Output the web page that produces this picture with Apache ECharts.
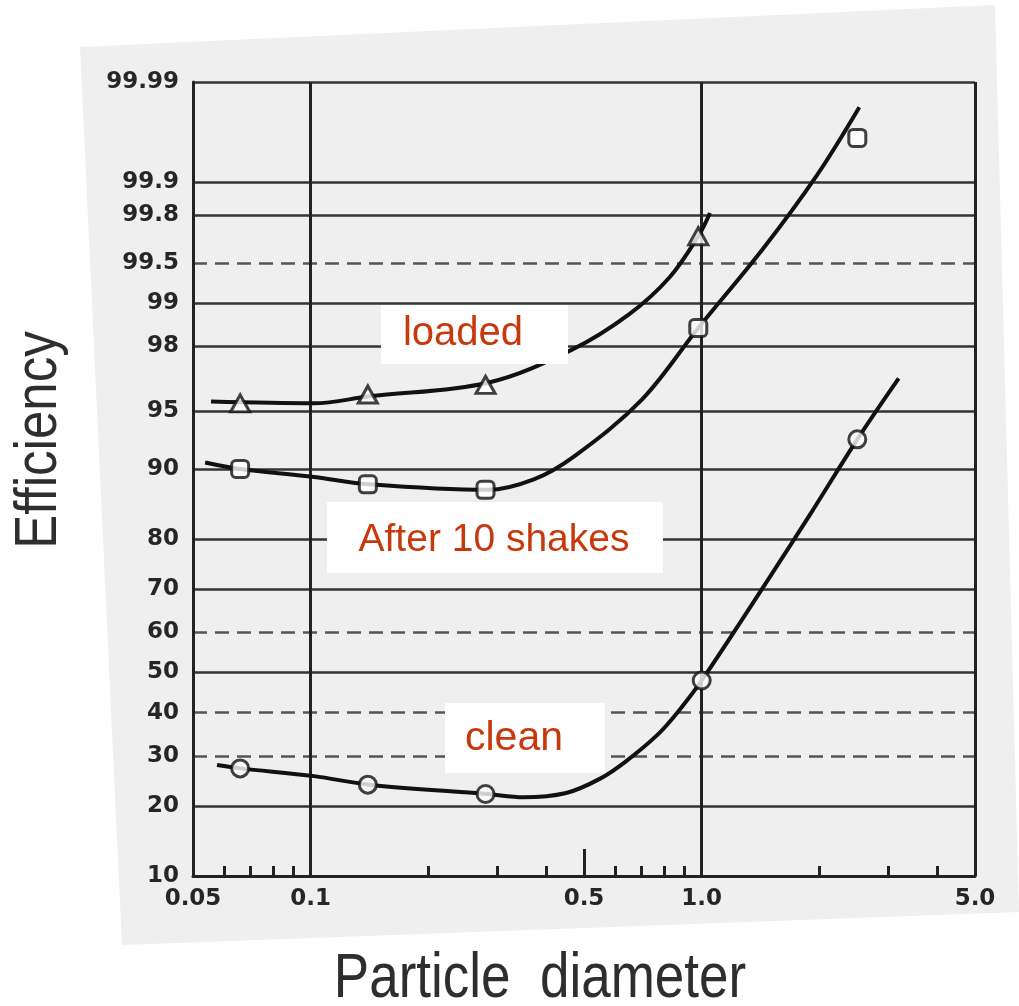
<!DOCTYPE html>
<html>
<head>
<meta charset="utf-8">
<script src="https://cdn.jsdelivr.net/npm/echarts@6/dist/echarts.min.js"></script>
<style>html,body{margin:0;padding:0;background:#fff;}#c{width:1019px;height:1006px;}</style>
</head>
<body>
<div id="c"></div>
<script>
// ---- data ----
const xTickLabels = ['0.05', '0.1', '0.5', '1.0', '5.0'];
const xMinorTicks = [0.06, 0.07, 0.08, 0.09, 0.2, 0.3, 0.4, 0.6, 0.7, 0.8, 0.9, 2, 3, 4];
const xMidTick = [0.5];
const xBoldLines = [0.05, 0.1, 1.0, 5.0];
const yTickLabels = ['10', '20', '30', '40', '50', '60', '70', '80', '90', '95', '98', '99', '99.5', '99.8', '99.9', '99.99'];
const ySolidLines = ['10', '20', '50', '70', '80', '90', '95', '98', '99', '99.8', '99.9', '99.99'];
const yDashedLines = ['30', '40', '60', '99.5'];

const loadedSizes = [0.066, 0.14, 0.28, 0.98];
const loadedEff = [95.5, 96.0, 96.5, 99.7];
const shakenSizes = [0.066, 0.14, 0.28, 0.98, 2.5];
const shakenEff = [90.0, 88.2, 87.5, 98.5, 99.962];
const cleanSizes = [0.066, 0.14, 0.28, 1.0, 2.5];
const cleanEff = [27.3, 24.0, 22.2, 48, 92.9];

const loadedCurveX = [0.0556, 0.102, 0.141, 0.284, 0.466, 0.653, 0.828, 0.98, 1.05];
const loadedCurveY = [95.6, 95.5, 95.9, 96.6, 97.9, 98.8, 99.36, 99.7, 99.81];
const shakenCurveX = [0.0537, 0.066, 0.102, 0.141, 0.284, 0.372, 0.471, 0.702, 0.98, 1.435, 1.97, 2.53];
const shakenCurveY = [90.7, 90.0, 89.1, 88.2, 87.5, 88.8, 91.3, 95.7, 98.5, 99.62, 99.913, 99.9815];
const cleanCurveX = [0.0576, 0.066, 0.102, 0.141, 0.283, 0.35, 0.45, 0.55, 0.64, 0.774, 0.871, 1.0, 1.466, 1.93, 2.5, 3.19];
const cleanCurveY = [28.0, 27.3, 25.7, 24.0, 22.2, 21.6, 22.4, 25.2, 28.8, 34.9, 40.3, 48, 71.6, 84.8, 92.9, 96.8];

// ---- scale helpers ----
function probit(p) {
  const a = [-3.969683028665376e+01, 2.209460984245205e+02, -2.759285104469687e+02, 1.383577518672690e+02, -3.066479806614716e+01, 2.506628277459239e+00];
  const b = [-5.447609879822406e+01, 1.615858368580409e+02, -1.556989798598866e+02, 6.680131188771972e+01, -1.328068155288572e+01];
  const c = [-7.784894002430293e-03, -3.223964580411365e-01, -2.400758277161838e+00, -2.549671285068542e+00, 4.374664141464968e+00, 2.938163982698783e+00];
  const d = [7.784695709041462e-03, 3.224671290700398e-01, 2.445134137142996e+00, 3.754408661907416e+00];
  const plow = 0.02425, phigh = 1 - plow;
  let q, r;
  if (p < plow) {
    q = Math.sqrt(-2 * Math.log(p));
    return (((((c[0]*q+c[1])*q+c[2])*q+c[3])*q+c[4])*q+c[5]) / ((((d[0]*q+d[1])*q+d[2])*q+d[3])*q+1);
  } else if (p <= phigh) {
    q = p - 0.5; r = q * q;
    return (((((a[0]*r+a[1])*r+a[2])*r+a[3])*r+a[4])*r+a[5])*q / (((((b[0]*r+b[1])*r+b[2])*r+b[3])*r+b[4])*r+1);
  } else {
    q = Math.sqrt(-2 * Math.log(1 - p));
    return -(((((c[0]*q+c[1])*q+c[2])*q+c[3])*q+c[4])*q+c[5]) / ((((d[0]*q+d[1])*q+d[2])*q+d[3])*q+1);
  }
}
const py = s => probit(parseFloat(s) / 100);
const lx = v => Math.log10(parseFloat(v));
const pairs = (xs, ys) => xs.map((x, i) => [lx(x), probit(ys[i] / 100)]);

const xMin = lx('0.05'), xMax = lx('5.0');
const yMin = py('10'), yMax = py('99.99');

const GRID = { left: 193, right: 44, top: 82, bottom: 130 };
const lineCol = '#333';
const labelFont = { fontFamily: 'DejaVu Sans', fontWeight: 'bold', fontSize: 23, color: '#262626' };

function xAxisBase(extra) {
  return Object.assign({
    type: 'value', min: xMin, max: xMax, position: 'bottom', gridIndex: 0,
    axisLine: { show: false, onZero: false }, axisLabel: { show: false }, splitLine: { show: false },
    axisTick: { show: false }
  }, extra);
}

const option = {
  backgroundColor: '#ffffff',
  animation: false,
  grid: GRID,
  xAxis: [
    xAxisBase({
      axisLine: { show: true, onZero: false, lineStyle: { color: '#222', width: 3 } },
      axisTick: { show: false, customValues: xBoldLines.map(lx) },
      splitLine: { show: true, lineStyle: { color: '#222', width: 3 } },
      axisLabel: Object.assign({
        show: true, margin: 12, showMinLabel: true, showMaxLabel: true,
        customValues: xTickLabels.map(lx),
        formatter: v => { const i = xTickLabels.findIndex(s => Math.abs(lx(s) - v) < 1e-9); return i >= 0 ? xTickLabels[i] : ''; }
      }, labelFont)
    }),
    xAxisBase({
      axisTick: { show: true, inside: true, length: 10, customValues: xMinorTicks.map(lx), lineStyle: { color: '#222', width: 3 } }
    }),
    xAxisBase({
      axisTick: { show: true, inside: true, length: 27, customValues: xMidTick.map(lx), lineStyle: { color: '#222', width: 3 } }
    })
  ],
  yAxis: [
    {
      type: 'value', min: yMin, max: yMax, position: 'left',
      axisLine: { show: true, onZero: false, lineStyle: { color: '#222', width: 3 } },
      axisTick: { show: false, customValues: ySolidLines.map(py) },
      splitLine: { show: true, lineStyle: { color: lineCol, width: 2.5 } },
      axisLabel: Object.assign({
        show: true, margin: 14, showMinLabel: true, showMaxLabel: true,
        customValues: yTickLabels.map(py),
        formatter: v => { const i = yTickLabels.findIndex(s => Math.abs(py(s) - v) < 1e-9); return i >= 0 ? yTickLabels[i] : ''; }
      }, labelFont)
    },
    {
      type: 'value', min: yMin, max: yMax, position: 'left',
      axisLine: { show: false, onZero: false }, axisLabel: { show: false },
      axisTick: { show: false, customValues: yDashedLines.map(py) },
      splitLine: { show: true, lineStyle: { color: '#555', width: 2.5, type: [14, 8] } }
    }
  ],
  series: [
    { type: 'line', name: 'loaded curve', data: pairs(loadedCurveX, loadedCurveY), smooth: 0.35, showSymbol: false, lineStyle: { color: '#111', width: 4 }, z: 3 },
    { type: 'line', name: 'shaken curve', data: pairs(shakenCurveX, shakenCurveY), smooth: 0.35, showSymbol: false, lineStyle: { color: '#111', width: 4 }, z: 3 },
    { type: 'line', name: 'clean curve', data: pairs(cleanCurveX, cleanCurveY), smooth: 0.35, showSymbol: false, lineStyle: { color: '#111', width: 4 }, z: 3 },
    { type: 'scatter', name: 'loaded', data: pairs(loadedSizes, loadedEff), symbol: 'triangle', symbolSize: [19, 17], itemStyle: { color: '#fff', borderColor: '#111', borderWidth: 3 }, z: 5 },
    { type: 'scatter', name: 'After 10 shakes', data: pairs(shakenSizes, shakenEff), symbol: 'roundRect', symbolSize: 17, itemStyle: { color: '#fff', borderColor: '#111', borderWidth: 3 }, z: 5 },
    { type: 'scatter', name: 'clean', data: pairs(cleanSizes, cleanEff), symbol: 'circle', symbolSize: 17, itemStyle: { color: '#fff', borderColor: '#111', borderWidth: 3 }, z: 5 }
  ],
  graphic: [
    { type: 'polygon', z: -100, silent: true, shape: { points: [[80, 47], [995, 5], [1019, 912], [122, 945]] }, style: { fill: '#efefef' } },
    { type: 'rect', z: 100, shape: { x: 381, y: 305, width: 187, height: 59 }, style: { fill: '#fff' } },
    { type: 'text', z: 101, x: 463, y: 334, style: { text: 'loaded', fontFamily: 'Liberation Sans', fontSize: 40, fill: '#C8380C', align: 'center', verticalAlign: 'middle' } },
    { type: 'rect', z: 100, shape: { x: 327, y: 502, width: 336, height: 71 }, style: { fill: '#fff' } },
    { type: 'text', z: 101, x: 494, y: 540, style: { text: 'After 10 shakes', fontFamily: 'Liberation Sans', fontSize: 39, fill: '#C8380C', align: 'center', verticalAlign: 'middle' } },
    { type: 'rect', z: 100, shape: { x: 445, y: 703, width: 160, height: 70 }, style: { fill: '#fff' } },
    { type: 'text', z: 101, x: 514, y: 739, style: { text: 'clean', fontFamily: 'Liberation Sans', fontSize: 41, fill: '#C8380C', align: 'center', verticalAlign: 'middle' } },
    { type: 'text', z: 101, x: 40, y: 440, rotation: Math.PI / 2, scaleY: 1.15, style: { text: 'Efficiency', fontFamily: 'Liberation Sans', fontSize: 51, fill: '#2e2e2e', align: 'center', verticalAlign: 'middle' } },
    { type: 'text', z: 101, x: 540, y: 980, scaleY: 1.18, style: { text: 'Particle  diameter', fontFamily: 'Liberation Sans', fontSize: 53, fill: '#2e2e2e', align: 'center', verticalAlign: 'middle' } }
  ]
};

const chart = echarts.init(document.getElementById('c'), null, { renderer: 'canvas' });
chart.setOption(option);
</script>
</body>
</html>
